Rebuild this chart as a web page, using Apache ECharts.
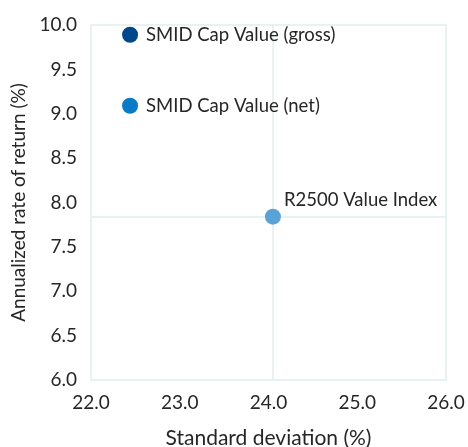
<!DOCTYPE html>
<html>
<head>
<meta charset="utf-8">
<script src="https://cdn.jsdelivr.net/npm/echarts@6/dist/echarts.min.js"></script>
<style>
  html, body { margin: 0; padding: 0; background: #fff; }
  #chart { width: 468px; height: 447px; }
</style>
</head>
<body>
<div id="chart"></div>
<script>
// data
var names = ['SMID Cap Value (gross)', 'SMID Cap Value (net)', 'R2500 Value Index'];
var stdDev = [22.44, 22.44, 24.05];
var annReturn = [9.89, 9.09, 7.84];
var colors = ['#02468c', '#0a7cc6', '#5aa3d6'];

var chart = echarts.init(document.getElementById('chart'));
var lineColor = '#e3edef';
var textColor = '#262626';
var font = 'Lato, "Open Sans", sans-serif';

var series = names.map(function (n, i) {
  var isIndex = i === 2;
  var s = {
    name: n,
    type: 'scatter',
    symbolSize: 16,
    z: 5,
    itemStyle: { color: colors[i], opacity: 1 },
    label: {
      show: true,
      formatter: n,
      position: 'right',
      distance: isIndex ? 3 : 8,
      offset: isIndex ? [0, -17] : [0, 0],
      color: textColor,
      fontSize: 18.5,
      fontFamily: font
    },
    data: [[stdDev[i], annReturn[i]]]
  };
  if (isIndex) {
    // crosshair through the index point
    s.markLine = {
      silent: true,
      symbol: 'none',
      label: { show: false },
      lineStyle: { color: lineColor, width: 1.5, type: 'solid', opacity: 1 },
      z: 1,
      data: [{ xAxis: stdDev[i] }, { yAxis: annReturn[i] }]
    };
  }
  return s;
});

var option = {
  animation: false,
  grid: {
    left: 91,
    right: 22,
    top: 25,
    bottom: 67,
    outerBoundsMode: 'none',
    containLabel: false,
    show: true,
    borderColor: lineColor,
    borderWidth: 1.5
  },
  xAxis: {
    type: 'value',
    min: 22,
    max: 26,
    interval: 1,
    name: 'Standard deviation (%)',
    nameLocation: 'middle',
    nameGap: 48,
    nameTextStyle: { color: textColor, fontSize: 21, fontFamily: font },
    axisLine: { show: false },
    axisTick: { show: false },
    splitLine: { show: false },
    axisLabel: {
      color: textColor,
      fontSize: 19,
      fontFamily: font,
      margin: 13,
      formatter: function (v) { return v.toFixed(1); }
    }
  },
  yAxis: {
    type: 'value',
    min: 6,
    max: 10,
    interval: 0.5,
    name: 'Annualized rate of return (%)',
    nameLocation: 'middle',
    nameGap: 60,
    nameTextStyle: { color: textColor, fontSize: 19, fontFamily: font },
    axisLine: { show: false },
    axisTick: { show: false },
    splitLine: { show: false },
    axisLabel: {
      color: textColor,
      fontSize: 19,
      fontFamily: font,
      margin: 14,
      formatter: function (v) { return v.toFixed(1); }
    }
  },
  series: series
};

chart.setOption(option);
</script>
</body>
</html>
